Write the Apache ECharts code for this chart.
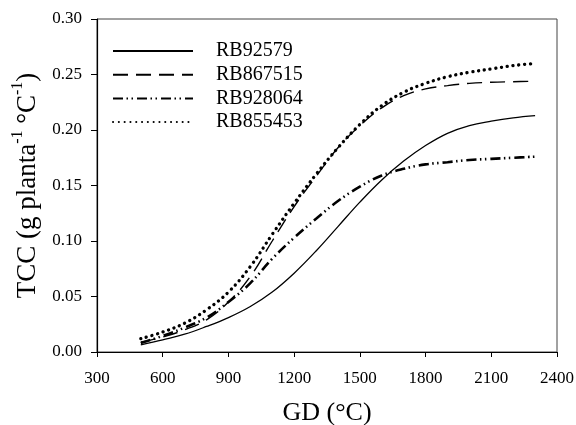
<!DOCTYPE html>
<html>
<head>
<meta charset="utf-8">
<script src="https://cdn.jsdelivr.net/npm/echarts@6/dist/echarts.min.js"></script>
<style>html,body{margin:0;padding:0;background:#fff}#c{width:576px;height:425px}</style>
</head>
<body>
<div id="c"></div>
<script>
var gd = [500,600,700,800,900,1000,1100,1200,1300,1400,1500,1600,1700,1800,1900,2000,2100,2200,2300];
var rb92579  = [0.0065,0.011,0.016,0.023,0.031,0.041,0.054,0.071,0.091,0.113,0.135,0.155,0.172,0.186,0.197,0.204,0.208,0.211,0.213];
var rb867515 = [0.009,0.0135,0.020,0.029,0.045,0.068,0.100,0.131,0.158,0.184,0.204,0.220,0.231,0.237,0.240,0.242,0.243,0.2435,0.244];
var rb928064 = [0.008,0.0145,0.022,0.031,0.045,0.062,0.084,0.103,0.120,0.136,0.149,0.159,0.165,0.169,0.171,0.173,0.174,0.175,0.176];
var rb855453 = [0.012,0.018,0.026,0.038,0.054,0.077,0.106,0.134,0.160,0.184,0.205,0.222,0.234,0.242,0.248,0.252,0.255,0.258,0.260];
var seriesNames = ['RB92579','RB867515','RB928064','RB855453'];
var xTicks = {min:300, max:2400, interval:300};
var yTicks = {min:0, max:0.30, interval:0.05};

function pairs(ys){ return gd.map(function(x,i){ return [x, ys[i]]; }); }
var FONT = 'Liberation Serif';
var chart = echarts.init(document.getElementById('c'), null, {renderer:'canvas'});
var styles = [
  {width:1.3, type:'solid'},
  {width:1.4, type:[15,8]},
  {width:2.6, type:[10,3.5,1.5,3.5,1.5,4]},
  {width:3.3, type:[0.1,5.7], cap:'round'}
];
var datas = [rb92579, rb867515, rb928064, rb855453];
chart.setOption({
  animation:false,
  grid:{left:97, right:19, top:19, bottom:73, show:true, borderColor:'#444', borderWidth:1,
        containLabel:false, outerBoundsMode:'none'},
  legend:{
    orient:'vertical', left:107, top:36, itemWidth:80, itemHeight:14, itemGap:3.7,
    itemStyle:{opacity:0},
    textStyle:{fontFamily:FONT, fontSize:20, color:'#000', padding:[0,0,0,18]},
    data:seriesNames
  },
  xAxis:{
    type:'value', min:xTicks.min, max:xTicks.max, interval:xTicks.interval,
    name:'GD (°C)', nameLocation:'middle', nameGap:48,
    nameTextStyle:{fontFamily:FONT, fontSize:26, color:'#000'},
    axisLine:{lineStyle:{color:'#000', width:1.2}},
    axisTick:{inside:false, length:5, lineStyle:{color:'#000'}},
    axisLabel:{fontFamily:FONT, fontSize:17, color:'#000', margin:18, formatter:function(v){return String(v);}},
    splitLine:{show:false}
  },
  yAxis:{
    type:'value', min:yTicks.min, max:yTicks.max, interval:yTicks.interval,
    name:'{m|TCC (g planta}{s|-1}{m| °C}{s|-1}{m|)}', nameLocation:'middle', nameGap:55, nameRotate:90,
    nameTextStyle:{fontFamily:FONT, color:'#000',
      rich:{m:{fontFamily:FONT, fontSize:27, color:'#000', lineHeight:32, verticalAlign:'bottom'},
            s:{fontFamily:FONT, fontSize:16, color:'#000', lineHeight:16, verticalAlign:'top'}}},
    axisLine:{show:true, lineStyle:{color:'#000', width:1.2}},
    axisTick:{show:true, inside:false, length:6, lineStyle:{color:'#000'}},
    axisLabel:{fontFamily:FONT, fontSize:17, color:'#000', margin:15, formatter:function(v){return v.toFixed(2);}},
    splitLine:{show:false}
  },
  series:seriesNames.map(function(n,i){
    return {name:n, type:'line', data:pairs(datas[i]), smooth:0.4, symbol:'none',
      lineStyle:Object.assign({color:'#000'}, styles[i]), itemStyle:{color:'#000'}};
  })
});
</script>
</body>
</html>
